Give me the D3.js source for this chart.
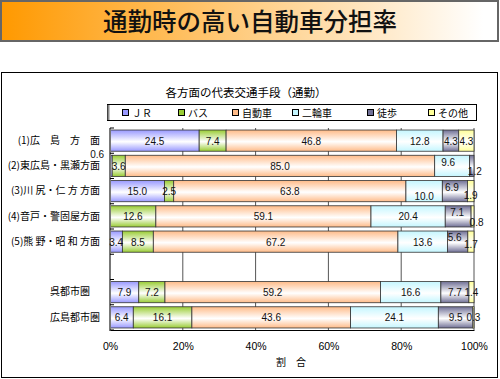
<!DOCTYPE html>
<html>
<head>
<meta charset="utf-8">
<script src="https://cdn.jsdelivr.net/npm/d3@7"></script>
<style>
  body { margin: 0; background: #fff; }
  svg { display: block; }
</style>
</head>
<body>
<script>
// 各方面の代表交通手段（通勤） - shares in %
const modes = ["ＪＲ", "バス", "自動車", "二輪車", "徒歩", "その他"];
const areas = ["(1)広　島　方　面", "(2)東広島・黒瀬方面", "(3)川 尻・仁 方 方面",
               "(4)音戸・警固屋方面", "(5)熊 野・昭 和 方面", "", "呉都市圏　", "広島都市圏"];
const jr    = [24.5, 0.6, 15.0, 0,    3.4, null, 7.9, 6.4];
const bus   = [7.4,  3.6, 2.5,  12.6, 8.5, null, 7.2, 16.1];
const car   = [46.8, 85.0, 63.8, 59.1, 67.2, null, 59.2, 43.6];
const bike  = [12.8, 9.6, 10.0, 20.4, 13.6, null, 16.6, 24.1];
const walk  = [4.3,  1.2, 6.9,  7.1,  5.6, null, 7.7, 9.5];
const other = [4.3,  0,   1.9,  0.8,  1.7, null, 1.4, 0.3];
const xTicks = [0, 20, 40, 60, 80, 100];

const series = [jr, bus, car, bike, walk, other];
const colors = ["#9999ff", "#99cc33", "#ffbb88", "#c4f6ff", "#707096", "#ffff99"];

// hand-moved data labels in the original (row,col -> dx,dy)
const labelNudge = {"1,0": [-14, -12], "1,3": [-4, -4], "1,4": [3, 5],
                    "2,3": [0, 5], "2,4": [-3, -4], "2,5": [0, 4],
                    "3,4": [-1, -4], "3,5": [4, 6], "4,4": [-3, -5], "4,5": [0, 2]};
const legendX = [122, 178, 232, 292, 367, 428];

const W = 500, H = 379;
const jpFont = "'Noto Sans CJK JP', 'Noto Sans', sans-serif";
const numFont = "'Liberation Sans', Arial, sans-serif";

const svg = d3.select("body").append("svg")
  .attr("width", W).attr("height", H)
  .attr("viewBox", [0, 0, W, H]);

const defs = svg.append("defs");
const banner = defs.append("linearGradient").attr("id", "banner")
  .attr("x1", 0).attr("x2", 1).attr("y1", 0).attr("y2", 0);
banner.append("stop").attr("offset", 0).attr("stop-color", "#ff9900");
banner.append("stop").attr("offset", 0.97).attr("stop-color", "#ffffff");

colors.forEach((c, i) => {
  const g = defs.append("linearGradient").attr("id", "grad" + i)
    .attr("x1", 0).attr("x2", 0).attr("y1", 0).attr("y2", 1);
  g.append("stop").attr("offset", 0).attr("stop-color", c);
  g.append("stop").attr("offset", 0.55).attr("stop-color", "#ffffff");
  g.append("stop").attr("offset", 1).attr("stop-color", c);
});

// title banner
svg.append("rect").attr("x", 1).attr("y", 1).attr("width", 497).attr("height", 40)
  .attr("fill", "url(#banner)").attr("stroke", "#666").attr("stroke-width", 2);
svg.append("text").attr("x", 250).attr("y", 31)
  .attr("text-anchor", "middle").attr("font-family", jpFont)
  .attr("font-size", 24.5).attr("font-weight", 500).attr("fill", "#111")
  .text("通勤時の高い自動車分担率");

// chart frame
svg.append("rect").attr("x", 1.5).attr("y", 72.5).attr("width", 496).attr("height", 305)
  .attr("fill", "none").attr("stroke", "#000");

svg.append("text").attr("x", 246).attr("y", 97)
  .attr("text-anchor", "middle").attr("font-family", jpFont)
  .attr("font-size", 11.5).text("各方面の代表交通手段（通勤）");

// legend
svg.append("rect").attr("x", 107.5).attr("y", 104.5).attr("width", 369).attr("height", 16)
  .attr("fill", "#fff").attr("stroke", "#000");
svg.append("line").attr("x1", 108.5).attr("x2", 108.5).attr("y1", 105).attr("y2", 120)
  .attr("stroke", "#888").attr("stroke-width", 2);
const leg = svg.append("g").selectAll("g").data(modes).join("g")
  .attr("transform", (d, i) => `translate(${legendX[i]},112.5)`);
leg.append("rect").attr("x", 0.5).attr("y", -3).attr("width", 6).attr("height", 6)
  .attr("fill", (d, i) => colors[i]).attr("stroke", "#000").attr("stroke-width", 1);
leg.append("text").attr("x", 10).attr("y", 4)
  .attr("font-family", jpFont).attr("font-size", 10).text(d => d);

// plot
const x = d3.scaleLinear().domain([0, 100]).range([110, 474]);
const y = d3.scaleBand().domain(areas).range([128, 330]).paddingInner(0.16).paddingOuter(0.08);

// gridlines
svg.append("g").selectAll("line").data(xTicks.slice(1)).join("line")
  .attr("x1", d => x(d)).attr("x2", d => x(d))
  .attr("y1", 128).attr("y2", 330)
  .attr("stroke", "#555").attr("stroke-width", 1);

const rows = areas.map((a, r) => ({area: a, vals: series.map(s => s[r])}))
  .filter(d => d.vals[0] !== null);

const segs = [];
rows.forEach(row => {
  let acc = 0;
  const r = areas.indexOf(row.area);
  row.vals.forEach((v, c) => {
    segs.push({r, c, area: row.area, v, x0: acc, x1: acc + v});
    acc += v;
  });
});

svg.append("g").selectAll("rect").data(segs.filter(d => d.v > 0)).join("rect")
  .attr("x", d => x(d.x0))
  .attr("y", d => y(d.area))
  .attr("width", d => Math.min(x(d.x1), x(100)) - x(d.x0))
  .attr("height", y.bandwidth())
  .attr("fill", d => `url(#grad${d.c})`)
  .attr("stroke", "#333").attr("stroke-width", 0.8);

// axes
const xAxis = svg.append("g").attr("transform", "translate(0,330)")
  .call(d3.axisBottom(x).tickValues(xTicks).tickFormat(d => d + "%").tickSize(0).tickPadding(13));
xAxis.select(".domain").attr("stroke", "#000").attr("stroke-width", 1.2);
xAxis.selectAll("text").attr("font-family", numFont).attr("font-size", 10.5).attr("fill", "#000");

const yAxis = svg.append("g").attr("transform", "translate(110,0)")
  .call(d3.axisLeft(y).tickSize(0).tickPadding(10));
yAxis.select(".domain").remove();
yAxis.selectAll("text").attr("font-family", jpFont).attr("font-size", 10).attr("fill", "#000");

svg.append("line").attr("x1", 110).attr("x2", 110).attr("y1", 128).attr("y2", 331)
  .attr("stroke", "#777").attr("stroke-width", 2);
const bounds = areas.map(a => y(a) - y.step() * y.paddingInner() / 2).concat([330]);
svg.append("g").selectAll("line").data(bounds).join("line")
  .attr("x1", 110).attr("x2", 114).attr("y1", d => d).attr("y2", d => d)
  .attr("stroke", "#000");

svg.append("text").attr("x", 291).attr("y", 366)
  .attr("text-anchor", "middle").attr("font-family", jpFont)
  .attr("font-size", 10).text("割　合");

// data labels
svg.append("g").selectAll("text").data(segs.filter(d => d.v > 0)).join("text")
  .attr("x", d => (x(d.x0) + x(Math.min(d.x1, 100))) / 2 + (labelNudge[d.r + "," + d.c] || [0, 0])[0])
  .attr("y", d => y(d.area) + y.bandwidth() / 2 + 4 + (labelNudge[d.r + "," + d.c] || [0, 0])[1])
  .attr("text-anchor", "middle")
  .attr("font-family", numFont).attr("font-size", 10).attr("fill", "#111")
  .text(d => d3.format(".1f")(d.v));
</script>
</body>
</html>
